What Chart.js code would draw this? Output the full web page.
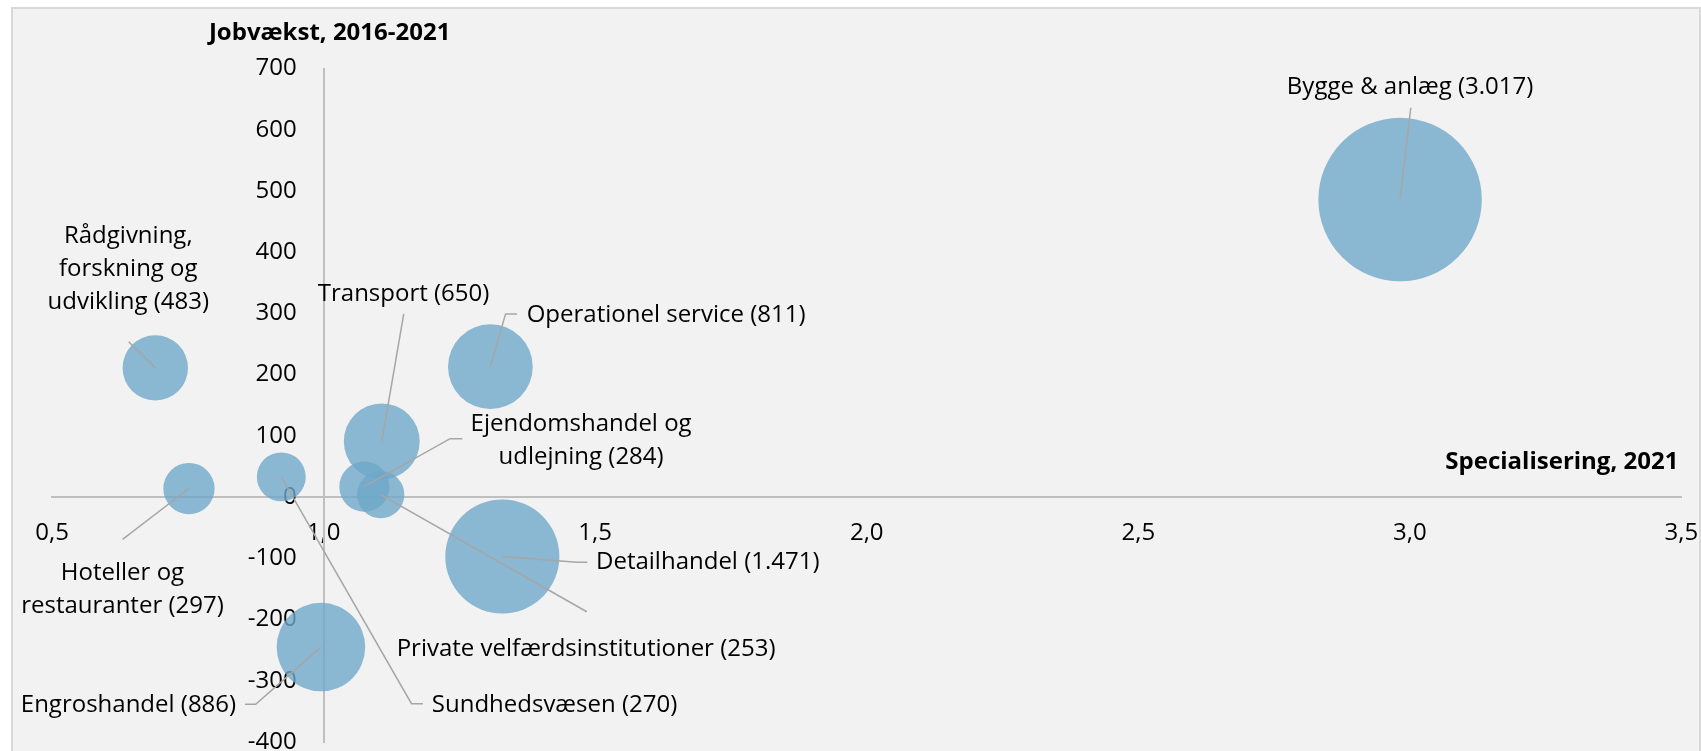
<!DOCTYPE html>
<html>
<head>
<meta charset="utf-8">
<script src="https://cdn.jsdelivr.net/npm/chart.js@4/dist/chart.umd.min.js"></script>
<style>
  html, body { margin: 0; padding: 0; background: #ffffff; }
  canvas { display: block; }
</style>
</head>
<body>
<canvas id="chart" width="1701" height="751"></canvas>
<script>
// ---------------- DATA ----------------
const categories = [
  "Bygge & anlæg",
  "Rådgivning, forskning og udvikling",
  "Transport",
  "Operationel service",
  "Ejendomshandel og udlejning",
  "Detailhandel",
  "Private velfærdsinstitutioner",
  "Sundhedsvæsen",
  "Hoteller og restauranter",
  "Engroshandel"
];
// Specialisering, 2021 (x)
const specialisering = [2.982, 0.690, 1.107, 1.307, 1.075, 1.329, 1.105, 0.922, 0.752, 0.995];
// Jobvækst, 2016-2021 (y)
const jobvaekst = [486, 211, 91, 213, 17, -97, 4, 33, 14, -245];
// Beskæftigede (bubble size)
const beskaeftigede = [3017, 483, 650, 811, 284, 1471, 253, 270, 297, 886];

const xTickValues = [0.5, 1.0, 1.5, 2.0, 2.5, 3.0, 3.5];
const xTickLabels = ["0,5", "1,0", "1,5", "2,0", "2,5", "3,0", "3,5"];
const yTickValues = [-400, -300, -200, -100, 0, 100, 200, 300, 400, 500, 600, 700];
const yTickLabels = ["-400", "-300", "-200", "-100", "0", "100", "200", "300", "400", "500", "600", "700"];

const xTitle = "Specialisering, 2021";
const yTitle = "Jobvækst, 2016-2021";

// ---------------- LAYOUT / STYLE ----------------
const FONT = "'Open Sans', sans-serif";
const FS = 24;
const LINE_H = 32.8;
const R_MAX = 81.7;
const BUBBLE = 'rgba(111,168,200,0.80)';
const LEADER = '#a6a6a6';
const AXIS = '#bfbfbf';

// label placement relative to bubble centre (pixels)
const labelLayout = [
  { align: 'center', dx: 10,    dy: -112.1, leader: [[10.7, -91.8]] },
  { align: 'center', dx: -27,   dy: -131.4, maxW: 180, leader: [[-26.6, -26.1]] },
  { align: 'center', dx: 21.8,  dy: -146.9, leader: [[22, -127.6]] },
  { align: 'left',   dx: 36.3,  dy: -51.4,  leader: [[15.2, -52.8], [26.7, -52.8]] },
  { align: 'center', dx: 216.7, dy: -62.3,  maxW: 250, leader: [[85.7, -48], [98, -48]] },
  { align: 'left',   dx: 93.7,  dy: 6.1,    leader: [[74.4, 5.8], [85, 5.8]] },
  { align: 'center', dx: 205.4, dy: 154.8,  leader: [[206.1, 117.1]] },
  { align: 'left',   dx: 150.5, dy: 228.5,  leader: [[130.2, 226.8], [141.7, 226.8]] },
  { align: 'center', dx: -66.5, dy: 84.9,   maxW: 225, leader: [[-66.4, 50.9]] },
  { align: 'right',  dx: -84.8, dy: 58.1,   leader: [[-65.3, 57.1], [-76, 57.1]] }
];

function fmtDa(n) { return String(n).replace(/\B(?=(\d{3})+(?!\d))/g, '.'); }

function wrap(ctx, text, maxW) {
  const words = text.split(' ');
  const lines = [];
  let cur = '';
  words.forEach(w => {
    const t = cur ? cur + ' ' + w : w;
    if (cur && ctx.measureText(t).width > maxW) { lines.push(cur); cur = w; }
    else cur = t;
  });
  if (cur) lines.push(cur);
  return lines;
}

const maxSize = Math.max(...beskaeftigede);
const points = categories.map((c, i) => ({
  x: specialisering[i],
  y: jobvaekst[i],
  r: R_MAX * Math.sqrt(beskaeftigede[i] / maxSize)
}));

// ---------------- PLUGINS ----------------
const bgPlugin = {
  id: 'bg',
  beforeDraw(chart) {
    const ctx = chart.ctx;
    ctx.save();
    ctx.fillStyle = '#ffffff';
    ctx.fillRect(0, 0, chart.width, chart.height);
    ctx.fillStyle = '#f2f2f2';
    ctx.fillRect(12, 8, chart.width - 12, chart.height - 8);
    ctx.strokeStyle = '#d9d9d9';
    ctx.lineWidth = 2;
    ctx.strokeRect(12, 8, 1688, 780);
    ctx.restore();

    // place y tick labels left of the crossing y axis
    const xs = chart.scales.x, ys = chart.scales.y;
    const ax = xs.getPixelForValue(1.0);
    ys.getLabelItems().forEach(it => {
      it.options.translation[0] = ax - 27;
      it.options.textAlign = 'right';
    });
  }
};

const annotPlugin = {
  id: 'annot',
  afterDatasetsDraw(chart) {
    const ctx = chart.ctx, xs = chart.scales.x, ys = chart.scales.y;
    ctx.save();
    // leader lines
    categories.forEach((name, i) => {
      const L = labelLayout[i];
      const cx = xs.getPixelForValue(specialisering[i]);
      const cy = ys.getPixelForValue(jobvaekst[i]);
      ctx.beginPath();
      ctx.moveTo(cx, cy);
      L.leader.forEach(p => ctx.lineTo(cx + p[0], cy + p[1]));
      ctx.strokeStyle = LEADER;
      ctx.lineWidth = 1.5;
      ctx.stroke();
    });
    // labels
    ctx.font = FS + 'px ' + FONT;
    ctx.fillStyle = '#000000';
    ctx.textBaseline = 'middle';
    categories.forEach((name, i) => {
      const L = labelLayout[i];
      const cx = xs.getPixelForValue(specialisering[i]);
      const cy = ys.getPixelForValue(jobvaekst[i]);
      const text = name + ' (' + fmtDa(beskaeftigede[i]) + ')';
      const lines = wrap(ctx, text, L.maxW || Infinity);
      ctx.textAlign = L.align;
      lines.forEach((ln, k) => ctx.fillText(ln, cx + L.dx, cy + L.dy + k * LINE_H));
    });
    // axis titles
    ctx.font = 'bold ' + FS + 'px ' + FONT;
    ctx.textAlign = 'center';
    ctx.fillText(yTitle, xs.getPixelForValue(1.0) + 6, chart.chartArea.top - 35.2);
    ctx.textAlign = 'right';
    ctx.fillText(xTitle, chart.chartArea.right - 3, ys.getPixelForValue(0) - 35);
    ctx.restore();
  }
};

// ---------------- CHART ----------------
function build() {
  Chart.defaults.font.family = FONT;
  Chart.defaults.font.size = FS;
  Chart.defaults.color = '#000000';
  new Chart(document.getElementById('chart'), {
    type: 'bubble',
    data: {
      datasets: [{
        label: 'Brancher',
        data: points,
        backgroundColor: BUBBLE,
        borderWidth: 0,
        hoverBorderWidth: 0
      }]
    },
    options: {
      responsive: false,
      animation: false,
      events: [],
      layout: { autoPadding: false, padding: { left: 52.1, right: 19.6, top: 68.5, bottom: 9 } },
      plugins: { legend: { display: false }, tooltip: { enabled: false } },
      scales: {
        x: {
          type: 'linear',
          position: { y: 0 },
          min: 0.5, max: 3.5,
          afterBuildTicks: s => { s.ticks = xTickValues.map(v => ({ value: v })); },
          afterFit: s => { s.height = 0; s.paddingLeft = 0; s.paddingRight = 0; s.paddingTop = 0; s.paddingBottom = 0; },
          grid: { display: false, drawTicks: false },
          border: { display: true, color: AXIS, width: 2 },
          ticks: {
            padding: 21.4,
            maxRotation: 0,
            autoSkip: false,
            callback: v => xTickLabels[xTickValues.indexOf(v)] ?? '',
            font: { size: FS, family: FONT },
            color: '#000000'
          }
        },
        y: {
          type: 'linear',
          position: { x: 1.0 },
          min: -400, max: 700,
          afterBuildTicks: s => { s.ticks = yTickValues.map(v => ({ value: v })); },
          afterFit: s => { s.width = 0; s.paddingLeft = 0; s.paddingRight = 0; s.paddingTop = 0; s.paddingBottom = 0; },
          grid: { display: false, drawTicks: false },
          border: { display: true, color: AXIS, width: 2 },
          ticks: {
            padding: 0,
            autoSkip: false,
            callback: v => yTickLabels[yTickValues.indexOf(v)] ?? '',
            font: { size: FS, family: FONT },
            color: '#000000'
          }
        }
      }
    },
    plugins: [bgPlugin, annotPlugin]
  });
}
if (document.fonts && document.fonts.load) {
  Promise.all([
    document.fonts.load(FS + "px 'Open Sans'"),
    document.fonts.load("bold " + FS + "px 'Open Sans'")
  ]).then(build, build);
} else { build(); }
</script>
</body>
</html>
